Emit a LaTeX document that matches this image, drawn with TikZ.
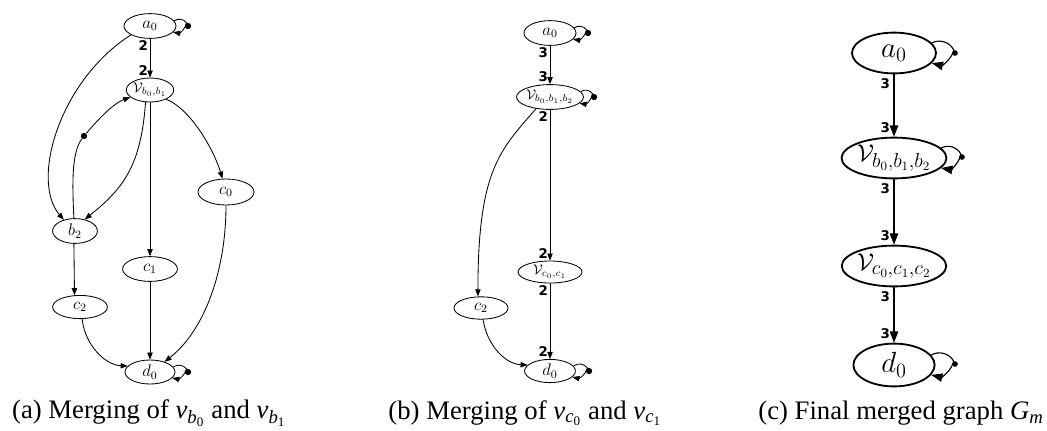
\documentclass[tikz,border=0pt]{standalone}
\usepackage{amsmath}
\usepackage{amssymb}
\usepackage{fontspec}
\setmainfont{Liberation Serif}
\newfontfamily\lblfont{DejaVu Sans}
\usepackage{tikz}
\usetikzlibrary{arrows.meta,shapes.geometric}

\begin{document}
\begin{tikzpicture}[x=0.025cm, y=-0.025cm, >={Triangle[length=5pt,width=3.8pt]},
  every node/.style={align=center},
  vtx/.style={draw, ellipse, line width=0.6pt, minimum width=1.3cm, minimum height=0.62cm, inner sep=0pt, font=\fontsize{12}{14}\selectfont},
  mrg/.style={vtx, font=\fontsize{10}{12}\selectfont},
  fin/.style={draw, ellipse, line width=1.3pt, minimum width=2.1cm, minimum height=1.02cm, inner sep=0pt, font=\fontsize{20}{24}\selectfont},
  dotm/.style={circle, fill, inner sep=0pt, minimum size=4.5pt},
  lbl/.style={font=\lblfont\bfseries\fontsize{9.5}{10}\selectfont, inner sep=1.2pt},
  edge/.style={line width=0.6pt},
  finedge/.style={line width=0.8pt, -{Triangle[length=8pt,width=6pt]}},
  captxt/.style={font=\fontsize{19}{23}\selectfont, inner sep=0pt}]
  \useasboundingbox (0,0) rectangle (1047,430);

  % (a) merging of v_b0 and v_b1
  \node[vtx] (a0) at (150,26) {$a_0$};
  \node[mrg, minimum width=1.05cm, minimum height=0.6cm] (vb) at (150,90) {$\mathcal{V}_{b_0,b_1}$};
  \node[vtx, minimum width=1.4cm, minimum height=0.65cm] (c0) at (226,192) {$c_0$};
  \node[vtx, minimum width=1.12cm] (b2) at (75,231) {$b_2$};
  \node[vtx, minimum width=1.37cm] (c1) at (150,269) {$c_1$};
  \node[vtx, minimum width=1.37cm, minimum height=0.58cm] (c2) at (80,307) {$c_2$};
  \node[vtx, minimum width=1.25cm, minimum height=0.6cm] (d0) at (150,372) {$d_0$};
  \node[dotm] (a0d) at (188,26) {};
  \node[dotm] (d0d) at (188,372) {};
  \node[dotm] (bvd) at (84,136) {};
  \draw[edge, ->] (a0.12) to[bend left=45] (a0d) to[bend left=45] (a0.-15);
  \draw[edge, ->] (d0.12) to[bend left=45] (d0d) to[bend left=45] (d0.-15);
  \draw[edge, ->] (a0) -- (vb) node[lbl, at start, anchor=north east] {2} node[lbl, at end, anchor=south east] {2};
  \draw[edge, ->] (a0.205) .. controls (60,80) and (30,180) .. (b2.135);
  \draw[edge, ->] (b2.95) .. controls (72,180) and (72,152) .. (bvd) .. controls (96,122) and (112,104) .. (vb.200);
  \draw[edge, ->] (vb.250) .. controls (141,165) and (124,188) .. (b2.50);
  \draw[edge, ->] (vb) -- (c1);
  \draw[edge, ->] (vb.330) .. controls (190,108) and (214,150) .. (c0.105);
  \draw[edge, ->] (b2.265) -- (c2.115);
  \draw[edge, ->] (c1) -- (d0);
  \draw[edge, ->] (c0.270) .. controls (226,270) and (205,330) .. (d0.35);
  \draw[edge, ->] (c2.280) .. controls (85,345) and (105,365) .. (d0.165);
  \node[captxt] (capa) at (149,413) {(a) Merging of \textit{v}\textsubscript{\textit{b}\textsubscript{0}} and \textit{v}\textsubscript{\textit{b}\textsubscript{1}}};

  % (b) merging of v_c0 and v_c1
  \node[vtx] (a0b) at (550,33) {$a_0$};
  \node[mrg, minimum width=1.62cm] (vbb) at (550,97) {$\mathcal{V}_{b_0,b_1,b_2}$};
  \node[mrg, minimum width=1.6cm, minimum height=0.55cm] (vcb) at (550,272) {$\mathcal{V}_{c_0,c_1}$};
  \node[vtx, minimum width=1.35cm, minimum height=0.56cm] (c2b) at (481,308) {$c_2$};
  \node[vtx, minimum width=1.27cm, minimum height=0.58cm] (d0b) at (550,371) {$d_0$};
  \node[dotm] (a0bd) at (588,33) {};
  \node[dotm] (vbbd) at (594,97) {};
  \node[dotm] (d0bd) at (589,371) {};
  \draw[edge, ->] (a0b.12) to[bend left=45] (a0bd) to[bend left=45] (a0b.-15);
  \draw[edge, ->] (vbb.10) to[bend left=45] (vbbd) to[bend left=45] (vbb.-12);
  \draw[edge, ->] (d0b.12) to[bend left=45] (d0bd) to[bend left=45] (d0b.-15);
  \draw[edge, ->] (a0b) -- (vbb) node[lbl, at start, anchor=north east] {3} node[lbl, at end, anchor=south east] {3};
  \draw[edge, ->] (vbb) -- (vcb) node[lbl, at start, anchor=north east] {2} node[lbl, at end, anchor=south east] {2};
  \draw[edge, ->] (vcb) -- (d0b) node[lbl, at start, anchor=north east] {2} node[lbl, at end, anchor=south east] {2};
  \draw[edge, ->] (vbb.220) .. controls (500,150) and (478,170) .. (c2b.105);
  \draw[edge, ->] (c2b.280) .. controls (487,345) and (505,364) .. (d0b.165);
  \node[captxt] (capb) at (525,413) {(b) Merging of \textit{v}\textsubscript{\textit{c}\textsubscript{0}} and \textit{v}\textsubscript{\textit{c}\textsubscript{1}}};

  % (c) final merged graph
  \node[fin] (a0c) at (894,53) {$a_0$};
  \node[fin, minimum width=2.62cm, font=\fontsize{19}{22}\selectfont] (vbc) at (894,158) {$\mathcal{V}_{b_0,b_1,b_2}$};
  \node[fin, minimum width=2.6cm, font=\fontsize{19}{22}\selectfont] (vcc) at (894,266) {$\mathcal{V}_{c_0,c_1,c_2}$};
  \node[fin, minimum width=2.03cm, minimum height=1.07cm] (d0c) at (894,365) {$d_0$};
  \node[dotm, minimum size=4pt] (a0cd) at (955,53) {};
  \node[dotm, minimum size=4pt] (vbcd) at (962,157) {};
  \node[dotm, minimum size=4pt] (d0cd) at (955,364) {};
  \draw[finedge] (a0c.15) to[bend left=45] (a0cd) to[bend left=45] (a0c.-15);
  \draw[finedge] (vbc.12) to[bend left=45] (vbcd) to[bend left=45] (vbc.-12);
  \draw[finedge] (d0c.15) to[bend left=45] (d0cd) to[bend left=45] (d0c.-15);
  \draw[finedge] (a0c) -- (vbc) node[lbl, at start, anchor=north east, inner sep=2.5pt] {3} node[lbl, at end, anchor=south east, inner sep=2.5pt] {3};
  \draw[finedge] (vbc) -- (vcc) node[lbl, at start, anchor=north east, inner sep=2.5pt] {3} node[lbl, at end, anchor=south east, inner sep=2.5pt] {3};
  \draw[finedge] (vcc) -- (d0c) node[lbl, at start, anchor=north east, inner sep=2.5pt] {3} node[lbl, at end, anchor=south east, inner sep=2.5pt] {3};
  \node[captxt] (capc) at (901,413) {(c) Final merged graph \textit{G}\textsubscript{\textit{m}}};
\end{tikzpicture}
\end{document}
